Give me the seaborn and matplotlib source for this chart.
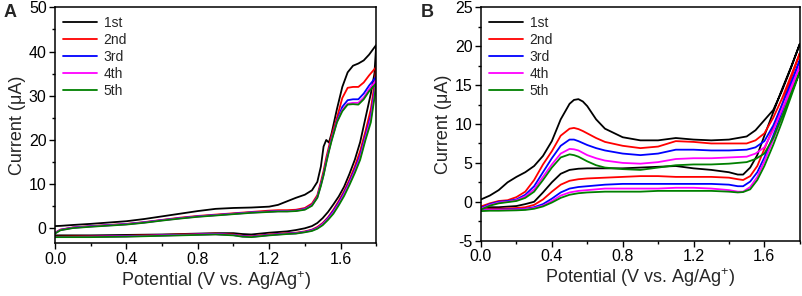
import numpy as np
import pandas as pd
import seaborn as sns
import matplotlib
matplotlib.use("Agg")
import matplotlib.pyplot as plt
from matplotlib.ticker import AutoMinorLocator, MultipleLocator, FormatStrFormatter

cycles = ["1st", "2nd", "3rd", "4th", "5th"]
colors = ["black", "#FF0000", "#0000FF", "#FF00FF", "#008000"]

# ---- panel A: potential grids (V) for anodic / cathodic sweep ----
A_fwd_E = [0.0, 0.03, 0.1, 0.2, 0.3, 0.4, 0.5, 0.6, 0.7, 0.8, 0.9, 1.0, 1.1, 1.2, 1.25, 1.3,
           1.35, 1.4, 1.44, 1.47, 1.49, 1.505, 1.52, 1.535, 1.55, 1.58, 1.61, 1.64, 1.67,
           1.70, 1.73, 1.76, 1.8]
A_rev_E = [1.8, 1.79, 1.77, 1.74, 1.71, 1.68, 1.65, 1.62, 1.59, 1.56, 1.53, 1.5, 1.47, 1.44,
           1.4, 1.35, 1.3, 1.2, 1.1, 1.05, 1.0, 0.9, 0.8, 0.6, 0.4, 0.2, 0.0]

# currents (uA)
A_fwd_1 = [0.5, 0.55, 0.75, 1.0, 1.3, 1.6, 2.1, 2.7, 3.3, 3.9, 4.4, 4.6, 4.7, 4.9, 5.3, 6.1,
           6.9, 7.6, 8.6, 10.5, 14.0, 18.5, 20.0, 19.4, 21.5, 27.0, 32.0, 35.3, 36.8,
           37.3, 38.0, 39.3, 41.5]
A_fwd_2 = [-1.0, -0.3, 0.2, 0.5, 0.75, 1.0, 1.4, 1.9, 2.4, 2.8, 3.1, 3.4, 3.7, 4.0, 4.1, 4.1,
           4.2, 4.6, 5.6, 7.5, 10.5, 13.0, 16.0, 18.5, 21.0, 25.0, 29.5, 31.8, 32.0,
           32.0, 33.0, 34.6, 36.5]
A_fwd_3 = [-1.1, -0.35, 0.15, 0.45, 0.7, 0.95, 1.35, 1.85, 2.3, 2.7, 3.0, 3.3, 3.6, 3.8, 3.9, 3.9,
           4.0, 4.4, 5.3, 7.1, 10.0, 12.3, 15.2, 17.8, 20.2, 24.3, 27.5, 29.0, 29.2,
           29.2, 30.5, 32.3, 34.3]
A_fwd_4 = [-1.15, -0.4, 0.1, 0.4, 0.65, 0.9, 1.3, 1.8, 2.25, 2.65, 2.95, 3.25, 3.55, 3.75, 3.85, 3.85,
           3.95, 4.3, 5.2, 7.0, 9.8, 12.1, 15.0, 17.6, 20.0, 24.1, 26.8, 28.2, 28.4,
           28.4, 29.6, 31.5, 33.5]
A_fwd_5 = [-1.2, -0.45, 0.05, 0.35, 0.6, 0.85, 1.25, 1.75, 2.2, 2.6, 2.9, 3.2, 3.5, 3.7, 3.8, 3.8,
           3.9, 4.2, 5.1, 6.9, 9.6, 12.0, 14.8, 17.4, 19.8, 24.0, 26.5, 28.0, 28.1,
           28.0, 29.2, 31.0, 32.8]

A_rev_1 = [41.5, 35.0, 30.5, 25.0, 19.5, 15.5, 12.3, 9.4, 7.2, 5.4, 3.7, 2.3, 1.2, 0.5,
           0.0, -0.4, -0.7, -1.0, -1.4, -1.3, -1.1, -1.1, -1.2, -1.4, -1.5, -1.6, -1.6]
A_rev_2 = [36.5, 32.5, 27.0, 22.0, 17.5, 14.0, 11.0, 8.4, 6.2, 4.2, 2.5, 1.2, 0.3, -0.3,
           -0.7, -1.0, -1.1, -1.4, -1.8, -1.7, -1.4, -1.2, -1.3, -1.5, -1.7, -1.8, -1.9]
A_rev_3 = [34.3, 31.0, 25.5, 21.0, 16.5, 13.3, 10.5, 8.0, 5.8, 3.9, 2.3, 1.0, 0.1, -0.4,
           -0.8, -1.1, -1.2, -1.5, -1.9, -1.8, -1.5, -1.3, -1.4, -1.6, -1.8, -1.9, -2.0]
A_rev_4 = [33.5, 30.3, 24.8, 20.5, 16.0, 12.9, 10.2, 7.7, 5.5, 3.6, 2.1, 0.9, 0.0, -0.5,
           -0.85, -1.15, -1.25, -1.55, -1.95, -1.85, -1.55, -1.35, -1.45, -1.65, -1.85, -1.95, -2.0]
A_rev_5 = [32.8, 29.5, 24.0, 20.0, 15.5, 12.5, 9.8, 7.3, 5.2, 3.3, 1.9, 0.7, -0.1, -0.6,
           -0.9, -1.2, -1.3, -1.6, -2.0, -1.9, -1.6, -1.4, -1.5, -1.7, -1.9, -2.0, -2.0]

# ---- panel B ----
B_up_E = [0.0, 0.05, 0.1, 0.15, 0.2, 0.25, 0.3, 0.35, 0.4, 0.45, 0.5, 0.525, 0.55, 0.575, 0.6,
          0.65, 0.7, 0.8, 0.9, 1.0, 1.1, 1.2, 1.3, 1.4, 1.5, 1.55, 1.6, 1.65, 1.7, 1.75, 1.8]
B_low_E = [1.8, 1.75, 1.7, 1.65, 1.6, 1.56, 1.52, 1.48, 1.45, 1.4, 1.3, 1.2, 1.1, 1.0, 0.9,
           0.8, 0.7, 0.6, 0.55, 0.5, 0.45, 0.4, 0.35, 0.3, 0.25, 0.2, 0.1, 0.05, 0.0]

B_up_1 = [0.3, 0.8, 1.5, 2.5, 3.2, 3.8, 4.6, 5.9, 7.8, 10.6, 12.6, 13.1, 13.2, 12.9, 12.3,
          10.6, 9.4, 8.3, 7.9, 7.9, 8.2, 8.0, 7.9, 8.0, 8.4, 9.2, 10.5, 11.8, 14.3, 17.2, 20.3]
B_up_2 = [-0.6, -0.2, 0.1, 0.2, 0.6, 1.3, 2.8, 4.8, 6.5, 8.5, 9.4, 9.5, 9.35, 9.1, 8.8,
          8.2, 7.7, 7.2, 6.9, 7.1, 7.8, 7.7, 7.5, 7.5, 7.5, 7.9, 8.8, 10.8, 13.3, 16.2, 19.1]
B_up_3 = [-0.8, -0.3, 0.0, 0.1, 0.3, 0.9, 2.0, 3.8, 5.6, 7.2, 8.0, 8.0, 7.8, 7.55, 7.3,
          6.9, 6.6, 6.2, 6.0, 6.2, 6.7, 6.7, 6.6, 6.6, 6.7, 7.0, 7.8, 9.8, 12.5, 15.3, 18.2]
B_up_4 = [-0.9, -0.4, -0.1, 0.0, 0.2, 0.7, 1.6, 3.2, 4.8, 6.2, 6.8, 6.75, 6.6, 6.3, 6.0,
          5.6, 5.3, 5.0, 4.9, 5.1, 5.5, 5.6, 5.6, 5.7, 5.8, 6.2, 7.0, 9.2, 11.9, 14.7, 17.5]
B_up_5 = [-1.0, -0.5, -0.2, -0.05, 0.1, 0.5, 1.3, 2.8, 4.4, 5.7, 6.1, 6.0, 5.8, 5.5, 5.2,
          4.7, 4.4, 4.2, 4.1, 4.4, 4.7, 4.8, 4.8, 4.9, 5.1, 5.5, 6.2, 8.2, 11.0, 13.9, 16.7]

B_low_1 = [20.3, 17.3, 14.5, 11.5, 8.5, 6.0, 4.4, 3.5, 3.5, 3.8, 4.1, 4.3, 4.6, 4.5, 4.4,
           4.3, 4.3, 4.3, 4.25, 4.1, 3.6, 2.5, 1.2, 0.0, -0.3, -0.55, -0.7, -0.7, -0.8]
B_low_2 = [19.1, 15.8, 12.5, 9.5, 6.8, 4.6, 3.3, 2.8, 2.9, 3.1, 3.2, 3.2, 3.2, 3.3, 3.3,
           3.2, 3.1, 3.0, 2.9, 2.7, 2.2, 1.3, 0.3, -0.4, -0.7, -0.8, -0.9, -0.9, -1.0]
B_low_3 = [18.2, 14.8, 11.5, 8.5, 5.7, 3.8, 2.6, 2.0, 2.0, 2.2, 2.3, 2.3, 2.3, 2.3, 2.3,
           2.3, 2.2, 2.0, 1.9, 1.7, 1.2, 0.4, -0.3, -0.7, -0.9, -0.95, -1.0, -1.0, -1.05]
B_low_4 = [17.5, 14.2, 11.0, 8.0, 5.2, 3.2, 1.9, 1.3, 1.3, 1.5, 1.7, 1.8, 1.8, 1.7, 1.7,
           1.7, 1.7, 1.5, 1.4, 1.2, 0.8, 0.1, -0.5, -0.8, -0.95, -1.0, -1.05, -1.05, -1.1]
B_low_5 = [16.7, 13.5, 10.3, 7.3, 4.6, 2.8, 1.6, 1.25, 1.2, 1.3, 1.4, 1.4, 1.4, 1.4, 1.3,
           1.3, 1.3, 1.2, 1.1, 0.9, 0.5, -0.1, -0.6, -0.9, -1.05, -1.1, -1.15, -1.15, -1.2]


def build(fwd_E, rev_E, fwd, rev):
    rows = []
    for name, f, r in zip(cycles, fwd, rev):
        E = list(fwd_E) + list(rev_E)
        I = list(f) + list(r)
        rows.append(pd.DataFrame({"E": E, "I": I, "cycle": name}))
    return pd.concat(rows, ignore_index=True)


df_A = build(A_fwd_E, A_rev_E, [A_fwd_1, A_fwd_2, A_fwd_3, A_fwd_4, A_fwd_5],
             [A_rev_1, A_rev_2, A_rev_3, A_rev_4, A_rev_5])
df_B = build(B_up_E, B_low_E, [B_up_1, B_up_2, B_up_3, B_up_4, B_up_5],
             [B_low_1, B_low_2, B_low_3, B_low_4, B_low_5])

sns.set_style("ticks")
plt.rcParams["font.family"] = ["Liberation Sans", "DejaVu Sans"]
plt.rcParams["mathtext.fontset"] = "custom"
plt.rcParams["mathtext.rm"] = "Liberation Sans"
plt.rcParams["axes.unicode_minus"] = False

fig = plt.figure(figsize=(8.03, 2.96), dpi=100)
ax_a = fig.add_axes([0.0685, 0.178, 0.400, 0.797])
ax_b = fig.add_axes([0.599, 0.187, 0.397, 0.788])

palette = dict(zip(cycles, colors))

for ax, df, ylim, ymaj in [(ax_a, df_A, (-3.4, 50), 10), (ax_b, df_B, (-5, 25), 5)]:
    sns.lineplot(data=df, x="E", y="I", hue="cycle", palette=palette, estimator=None,
                 sort=False, linewidth=1.3, ax=ax)
    ax.set_xlim(0, 1.8)
    ax.set_ylim(*ylim)
    ax.xaxis.set_major_locator(MultipleLocator(0.4))
    ax.yaxis.set_major_locator(MultipleLocator(ymaj))
    ax.xaxis.set_minor_locator(AutoMinorLocator(2))
    ax.yaxis.set_minor_locator(AutoMinorLocator(2))
    ax.tick_params(which="major", direction="out", length=4, width=1, labelsize=11.5,
                   colors="black", pad=2)
    ax.tick_params(which="minor", direction="out", length=2.5, width=1, colors="black")
    for s in ax.spines.values():
        s.set_linewidth(1.1)
        s.set_color("black")
    ax.set_xlabel("Potential (V vs. Ag/Ag$^{+}$)", fontsize=13, labelpad=2)
    ax.set_ylabel("Current (\u03bcA)", fontsize=13, labelpad=2)
    ax.xaxis.set_major_formatter(FormatStrFormatter("%.1f"))
    leg = ax.legend(loc="upper left", bbox_to_anchor=(0.0, 1.0), frameon=False,
                    fontsize=10, handlelength=2.4, handletextpad=0.5, labelspacing=0.22,
                    borderaxespad=0.3, borderpad=0.3)
    for line in leg.get_lines():
        line.set_linewidth(1.3)

fig.text(0.004, 0.985, "A", fontsize=13, fontweight="bold", va="top", ha="left")
fig.text(0.524, 0.985, "B", fontsize=13, fontweight="bold", va="top", ha="left")

fig.savefig("out.png", dpi=100)
